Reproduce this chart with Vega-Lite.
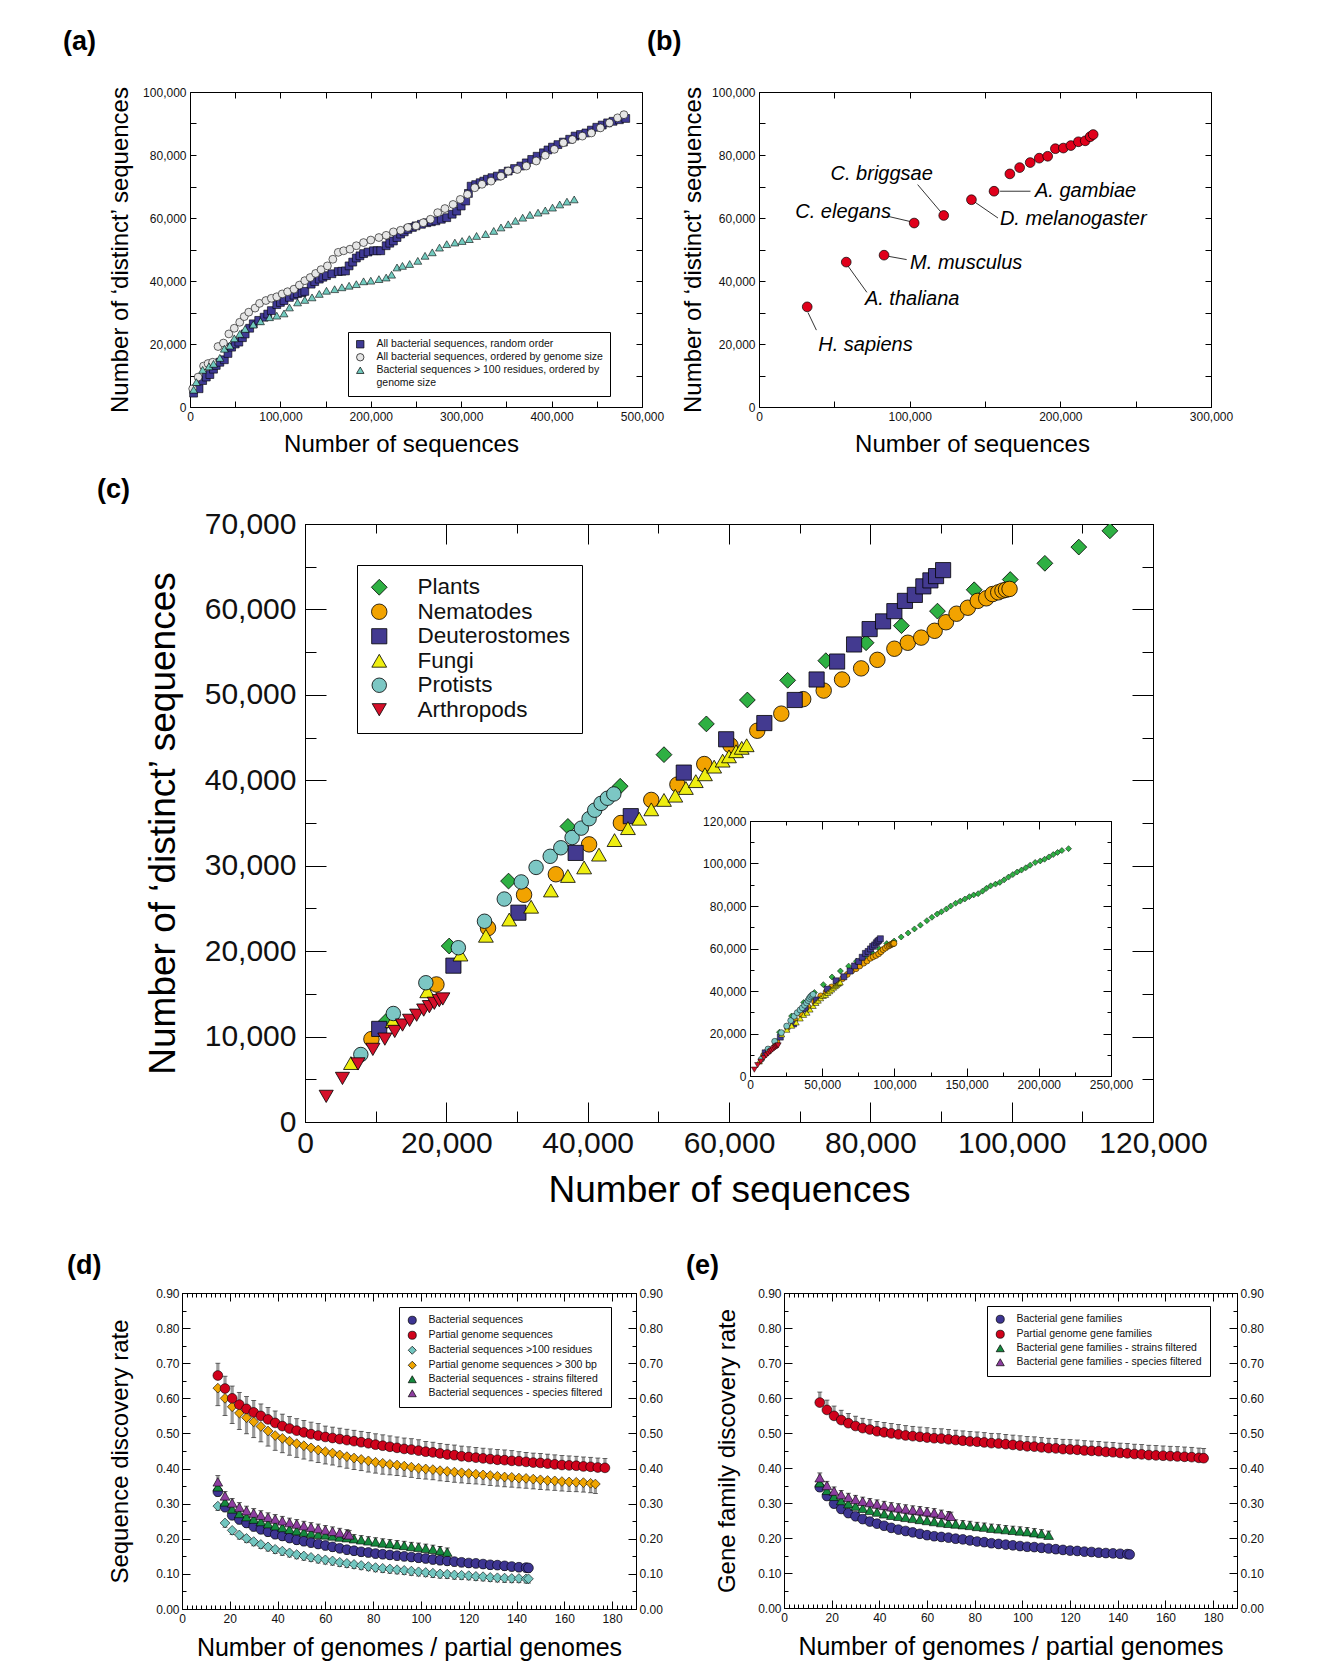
{
"$schema":"https://vega.github.io/schema/vega-lite/v6.json",
"background":"white",
"padding":{"left":0,"top":27,"right":5,"bottom":5},
"config":{
 "font":"Liberation Sans",
 "view":{"stroke":"black","strokeWidth":1},
 "axis":{"domain":false,"grid":false,"tickColor":"black","tickWidth":1,"labelColor":"#111","titleColor":"black","titleFontWeight":"normal","labelFlush":false,"labelOverlap":false,"labelBound":false},
 "legend":{"titleFontWeight":"normal","labelColor":"#111","symbolStrokeColor":"black","symbolStrokeWidth":0.7,"strokeColor":"black","fillColor":"white","labelFont":"Liberation Sans"},
 "title":{"fontWeight":"bold","anchor":"start","frame":"group","color":"black","font":"Liberation Sans"}
},
"resolve":{"scale":{"color":"independent","shape":"independent","size":"independent"},"legend":{"color":"independent","shape":"independent","size":"independent"}},
"datasets":{
 "a":[
{"s":"R","x":4000,"y":4400},{"s":"R","x":10000,"y":5800},{"s":"R","x":14000,"y":8400},{"s":"R","x":18000,"y":9500},{"s":"R","x":22000,"y":10300},{"s":"R","x":26000,"y":12000},{"s":"R","x":29000,"y":13200},{"s":"R","x":33000,"y":14200},{"s":"R","x":38000,"y":15000},{"s":"R","x":42000,"y":17000},{"s":"R","x":46000,"y":19000},{"s":"R","x":50000,"y":20000},{"s":"R","x":54000,"y":20600},{"s":"R","x":58000,"y":22000},{"s":"R","x":61000,"y":23200},{"s":"R","x":66000,"y":25000},{"s":"R","x":70000,"y":26400},{"s":"R","x":76000,"y":27500},{"s":"R","x":82000,"y":28500},{"s":"R","x":86000,"y":29500},{"s":"R","x":90000,"y":30600},{"s":"R","x":96000,"y":32500},{"s":"R","x":100000,"y":33200},{"s":"R","x":104000,"y":33800},{"s":"R","x":110000,"y":34800},{"s":"R","x":115000,"y":35500},{"s":"R","x":119000,"y":36000},{"s":"R","x":124000,"y":36300},{"s":"R","x":127000,"y":36700},{"s":"R","x":134000,"y":39000},{"s":"R","x":138000,"y":39800},{"s":"R","x":143000,"y":40600},{"s":"R","x":147000,"y":41200},{"s":"R","x":151000,"y":41700},{"s":"R","x":157000,"y":42300},{"s":"R","x":164000,"y":43000},{"s":"R","x":168000,"y":43100},{"s":"R","x":172000,"y":43200},{"s":"R","x":176000,"y":44800},{"s":"R","x":180000,"y":46000},{"s":"R","x":184000,"y":47300},{"s":"R","x":188000,"y":48000},{"s":"R","x":192000,"y":48700},{"s":"R","x":197000,"y":49200},{"s":"R","x":203000,"y":49600},{"s":"R","x":207000,"y":49600},{"s":"R","x":211000,"y":49600},{"s":"R","x":217000,"y":51200},{"s":"R","x":221000,"y":52000},{"s":"R","x":225000,"y":52700},{"s":"R","x":229000,"y":53800},{"s":"R","x":233000,"y":54900},{"s":"R","x":237000,"y":55600},{"s":"R","x":241000,"y":56400},{"s":"R","x":246000,"y":57000},{"s":"R","x":250000,"y":57500},{"s":"R","x":256000,"y":58000},{"s":"R","x":262000,"y":58500},{"s":"R","x":267000,"y":58800},{"s":"R","x":272000,"y":59100},{"s":"R","x":278000,"y":59600},{"s":"R","x":284000,"y":60100},{"s":"R","x":290000,"y":61200},{"s":"R","x":295000,"y":62200},{"s":"R","x":300000,"y":63800},{"s":"R","x":305000,"y":65400},{"s":"R","x":308000,"y":67800},{"s":"R","x":311000,"y":70100},{"s":"R","x":316000,"y":70600},{"s":"R","x":321000,"y":71200},{"s":"R","x":325000,"y":71700},{"s":"R","x":329000,"y":72300},{"s":"R","x":334000,"y":72800},{"s":"R","x":340000,"y":73300},{"s":"R","x":346000,"y":74100},{"s":"R","x":352000,"y":74900},{"s":"R","x":359000,"y":75700},{"s":"R","x":366000,"y":76500},{"s":"R","x":372000,"y":77500},{"s":"R","x":378000,"y":78600},{"s":"R","x":384000,"y":79600},{"s":"R","x":391000,"y":80700},{"s":"R","x":396000,"y":81600},{"s":"R","x":401000,"y":82500},{"s":"R","x":407000,"y":83300},{"s":"R","x":413000,"y":84100},{"s":"R","x":420000,"y":85000},{"s":"R","x":426000,"y":86000},{"s":"R","x":432000,"y":86500},{"s":"R","x":438000,"y":87000},{"s":"R","x":444000,"y":87900},{"s":"R","x":450000,"y":88800},{"s":"R","x":456000,"y":89500},{"s":"R","x":462000,"y":90200},{"s":"R","x":468000,"y":90700},{"s":"R","x":475000,"y":91200},{"s":"R","x":482000,"y":91600},
{"s":"G","x":3000,"y":5800},{"s":"G","x":9000,"y":9500},{"s":"G","x":15000,"y":13000},{"s":"G","x":20000,"y":13800},{"s":"G","x":25000,"y":14200},{"s":"G","x":31000,"y":19200},{"s":"G","x":37000,"y":20300},{"s":"G","x":43000,"y":23200},{"s":"G","x":49000,"y":25000},{"s":"G","x":55000,"y":26900},{"s":"G","x":60000,"y":28700},{"s":"G","x":65000,"y":30100},{"s":"G","x":72000,"y":31400},{"s":"G","x":77000,"y":32900},{"s":"G","x":84000,"y":33800},{"s":"G","x":90000,"y":34500},{"s":"G","x":96000,"y":35000},{"s":"G","x":102000,"y":35900},{"s":"G","x":108000,"y":36600},{"s":"G","x":115000,"y":37400},{"s":"G","x":121000,"y":38700},{"s":"G","x":127000,"y":40100},{"s":"G","x":133000,"y":41100},{"s":"G","x":139000,"y":42400},{"s":"G","x":145000,"y":43600},{"s":"G","x":152000,"y":44800},{"s":"G","x":158000,"y":46900},{"s":"G","x":164000,"y":49100},{"s":"G","x":170000,"y":49600},{"s":"G","x":177000,"y":50100},{"s":"G","x":184000,"y":51200},{"s":"G","x":192000,"y":52200},{"s":"G","x":200000,"y":53000},{"s":"G","x":209000,"y":53800},{"s":"G","x":217000,"y":54500},{"s":"G","x":225000,"y":55600},{"s":"G","x":233000,"y":56100},{"s":"G","x":241000,"y":57000},{"s":"G","x":250000,"y":57500},{"s":"G","x":258000,"y":58500},{"s":"G","x":266000,"y":59600},{"s":"G","x":274000,"y":61700},{"s":"G","x":282000,"y":63000},{"s":"G","x":291000,"y":64300},{"s":"G","x":299000,"y":65900},{"s":"G","x":307000,"y":67500},{"s":"G","x":315000,"y":69600},{"s":"G","x":323000,"y":70700},{"s":"G","x":333000,"y":71700},{"s":"G","x":344000,"y":73300},{"s":"G","x":352000,"y":74900},{"s":"G","x":362000,"y":75400},{"s":"G","x":372000,"y":76500},{"s":"G","x":383000,"y":78100},{"s":"G","x":393000,"y":79900},{"s":"G","x":403000,"y":81800},{"s":"G","x":413000,"y":83900},{"s":"G","x":423000,"y":84900},{"s":"G","x":434000,"y":86000},{"s":"G","x":444000,"y":87000},{"s":"G","x":454000,"y":88600},{"s":"G","x":464000,"y":90200},{"s":"G","x":473000,"y":91800},{"s":"G","x":480000,"y":92800},
{"s":"T","x":4000,"y":5500},{"s":"T","x":7000,"y":7900},{"s":"T","x":14000,"y":11800},{"s":"T","x":21000,"y":12900},{"s":"T","x":26000,"y":13700},{"s":"T","x":33000,"y":15600},{"s":"T","x":38000,"y":18500},{"s":"T","x":44000,"y":19500},{"s":"T","x":49000,"y":21800},{"s":"T","x":55000,"y":23200},{"s":"T","x":61000,"y":24800},{"s":"T","x":70000,"y":26200},{"s":"T","x":78000,"y":27200},{"s":"T","x":88000,"y":28500},{"s":"T","x":96000,"y":29000},{"s":"T","x":104000,"y":29700},{"s":"T","x":110000,"y":31600},{"s":"T","x":119000,"y":33200},{"s":"T","x":127000,"y":34000},{"s":"T","x":135000,"y":34800},{"s":"T","x":143000,"y":35900},{"s":"T","x":151000,"y":36900},{"s":"T","x":160000,"y":37400},{"s":"T","x":168000,"y":38000},{"s":"T","x":176000,"y":38500},{"s":"T","x":184000,"y":39000},{"s":"T","x":192000,"y":39900},{"s":"T","x":200000,"y":40100},{"s":"T","x":209000,"y":40600},{"s":"T","x":217000,"y":41100},{"s":"T","x":223000,"y":42000},{"s":"T","x":229000,"y":44300},{"s":"T","x":235000,"y":44800},{"s":"T","x":243000,"y":45400},{"s":"T","x":252000,"y":46400},{"s":"T","x":260000,"y":48000},{"s":"T","x":268000,"y":49100},{"s":"T","x":276000,"y":50600},{"s":"T","x":284000,"y":51700},{"s":"T","x":293000,"y":52200},{"s":"T","x":301000,"y":52700},{"s":"T","x":309000,"y":53300},{"s":"T","x":317000,"y":54300},{"s":"T","x":327000,"y":54900},{"s":"T","x":336000,"y":55900},{"s":"T","x":344000,"y":57000},{"s":"T","x":352000,"y":58000},{"s":"T","x":360000,"y":59100},{"s":"T","x":368000,"y":60100},{"s":"T","x":376000,"y":61000},{"s":"T","x":385000,"y":61700},{"s":"T","x":393000,"y":62400},{"s":"T","x":401000,"y":63300},{"s":"T","x":409000,"y":64300},{"s":"T","x":417000,"y":65200},{"s":"T","x":425000,"y":65900}
 ],
 "b":[
{"x":32000,"y":31800},{"x":57900,"y":46000},{"x":83000,"y":48200},{"x":103000,"y":58400},{"x":122600,"y":60800},{"x":141000,"y":65800},{"x":156000,"y":68500},{"x":166500,"y":74000},{"x":173000,"y":76000},{"x":180000,"y":77600},{"x":186000,"y":79000},{"x":191600,"y":79600},{"x":196700,"y":82000},{"x":202000,"y":82200},{"x":207000,"y":83000},{"x":212000,"y":84200},{"x":216500,"y":84500},{"x":219800,"y":85800},{"x":221800,"y":86500}
 ],
 "bl":[
{"n":"H. sapiens","lx":39300,"ly":19700,"x1":32500,"y1":30000,"x2":38100,"y2":24400},
{"n":"A. thaliana","lx":70300,"ly":34200,"x1":58400,"y1":45200,"x2":71600,"y2":36400},
{"n":"M. musculus","lx":100300,"ly":45700,"x1":86300,"y1":47800,"x2":98000,"y2":46800},
{"n":"C. elegans","lx":24100,"ly":61900,"x1":85000,"y1":60600,"x2":102000,"y2":58700},
{"n":"C. briggsae","lx":47500,"ly":73900,"x1":105300,"y1":70600,"x2":122300,"y2":61000},
{"n":"D. melanogaster","lx":159900,"ly":59700,"x1":143400,"y1":65000,"x2":158600,"y2":60000},
{"n":"A. gambiae","lx":183200,"ly":68500,"x1":160000,"y1":68500,"x2":180200,"y2":68500}
 ],
 "c":[
{"g":"Plants","x":11500,"y":11800},{"g":"Plants","x":20400,"y":20600},{"g":"Plants","x":28800,"y":28200},{"g":"Plants","x":37200,"y":34600},{"g":"Plants","x":44600,"y":39300},{"g":"Plants","x":50800,"y":43000},{"g":"Plants","x":56800,"y":46600},{"g":"Plants","x":62600,"y":49400},{"g":"Plants","x":68300,"y":51700},{"g":"Plants","x":73700,"y":54000},{"g":"Plants","x":79400,"y":56100},{"g":"Plants","x":84400,"y":58100},{"g":"Plants","x":89500,"y":59800},{"g":"Plants","x":94700,"y":62300},{"g":"Plants","x":99800,"y":63500},{"g":"Plants","x":104700,"y":65400},{"g":"Plants","x":109500,"y":67300},{"g":"Plants","x":113900,"y":69200},{"g":"Plants","x":118000,"y":71000},{"g":"Plants","x":122500,"y":73100},{"g":"Plants","x":126000,"y":74700},{"g":"Plants","x":129600,"y":76200},{"g":"Plants","x":132600,"y":77300},{"g":"Plants","x":136000,"y":78600},{"g":"Plants","x":139000,"y":80000},{"g":"Plants","x":142400,"y":81300},{"g":"Plants","x":145600,"y":82300},{"g":"Plants","x":148800,"y":83300},{"g":"Plants","x":151900,"y":84400},{"g":"Plants","x":154900,"y":85200},{"g":"Plants","x":158000,"y":85800},{"g":"Plants","x":161000,"y":87000},{"g":"Plants","x":163700,"y":88300},{"g":"Plants","x":166700,"y":89500},{"g":"Plants","x":170000,"y":90300},{"g":"Plants","x":173000,"y":91100},{"g":"Plants","x":176000,"y":92300},{"g":"Plants","x":179000,"y":93600},{"g":"Plants","x":182000,"y":94800},{"g":"Plants","x":185000,"y":96000},{"g":"Plants","x":188000,"y":96900},{"g":"Plants","x":191000,"y":98000},{"g":"Plants","x":194000,"y":99200},{"g":"Plants","x":197500,"y":100500},{"g":"Plants","x":201000,"y":101200},{"g":"Plants","x":204000,"y":102000},{"g":"Plants","x":207000,"y":103100},{"g":"Plants","x":210000,"y":104200},{"g":"Plants","x":213000,"y":105200},{"g":"Plants","x":216000,"y":106100},{"g":"Plants","x":220600,"y":107000},
{"g":"Nematodes","x":9400,"y":9700},{"g":"Nematodes","x":18600,"y":16100},{"g":"Nematodes","x":25900,"y":22700},{"g":"Nematodes","x":31000,"y":26600},{"g":"Nematodes","x":35500,"y":29000},{"g":"Nematodes","x":40200,"y":32500},{"g":"Nematodes","x":44700,"y":35000},{"g":"Nematodes","x":49000,"y":37700},{"g":"Nematodes","x":52700,"y":39500},{"g":"Nematodes","x":56500,"y":41900},{"g":"Nematodes","x":60200,"y":44100},{"g":"Nematodes","x":64000,"y":45800},{"g":"Nematodes","x":67400,"y":47800},{"g":"Nematodes","x":70500,"y":49500},{"g":"Nematodes","x":73400,"y":50500},{"g":"Nematodes","x":76000,"y":51800},{"g":"Nematodes","x":78700,"y":53100},{"g":"Nematodes","x":81000,"y":54100},{"g":"Nematodes","x":83400,"y":55400},{"g":"Nematodes","x":85300,"y":56100},{"g":"Nematodes","x":87200,"y":56700},{"g":"Nematodes","x":89100,"y":57500},{"g":"Nematodes","x":90700,"y":58500},{"g":"Nematodes","x":92200,"y":59500},{"g":"Nematodes","x":93800,"y":60200},{"g":"Nematodes","x":95200,"y":61000},{"g":"Nematodes","x":96400,"y":61300},{"g":"Nematodes","x":97300,"y":61800},{"g":"Nematodes","x":98100,"y":62000},{"g":"Nematodes","x":98700,"y":62200},{"g":"Nematodes","x":99200,"y":62300},{"g":"Nematodes","x":99700,"y":62400},
{"g":"Deuterostomes","x":10500,"y":10900},{"g":"Deuterostomes","x":21000,"y":18300},{"g":"Deuterostomes","x":30200,"y":24500},{"g":"Deuterostomes","x":38300,"y":31500},{"g":"Deuterostomes","x":46100,"y":35800},{"g":"Deuterostomes","x":53600,"y":40900},{"g":"Deuterostomes","x":59600,"y":44800},{"g":"Deuterostomes","x":65000,"y":46700},{"g":"Deuterostomes","x":69300,"y":49400},{"g":"Deuterostomes","x":72400,"y":51800},{"g":"Deuterostomes","x":75300,"y":53900},{"g":"Deuterostomes","x":77700,"y":55900},{"g":"Deuterostomes","x":79900,"y":57700},{"g":"Deuterostomes","x":81800,"y":58600},{"g":"Deuterostomes","x":83400,"y":59800},{"g":"Deuterostomes","x":84900,"y":61000},{"g":"Deuterostomes","x":86300,"y":61700},{"g":"Deuterostomes","x":87500,"y":62700},{"g":"Deuterostomes","x":88500,"y":63400},{"g":"Deuterostomes","x":89300,"y":63900},{"g":"Deuterostomes","x":90300,"y":64600},
{"g":"Fungi","x":6500,"y":6900},{"g":"Fungi","x":12400,"y":11800},{"g":"Fungi","x":17300,"y":15300},{"g":"Fungi","x":22000,"y":19600},{"g":"Fungi","x":25600,"y":21800},{"g":"Fungi","x":28900,"y":23700},{"g":"Fungi","x":32000,"y":25200},{"g":"Fungi","x":34800,"y":27100},{"g":"Fungi","x":37200,"y":28800},{"g":"Fungi","x":39500,"y":29800},{"g":"Fungi","x":41600,"y":31300},{"g":"Fungi","x":43800,"y":33000},{"g":"Fungi","x":45700,"y":34400},{"g":"Fungi","x":47300,"y":35500},{"g":"Fungi","x":49000,"y":36600},{"g":"Fungi","x":50800,"y":37700},{"g":"Fungi","x":52400,"y":38200},{"g":"Fungi","x":53900,"y":39100},{"g":"Fungi","x":55300,"y":39900},{"g":"Fungi","x":56600,"y":40700},{"g":"Fungi","x":57900,"y":41600},{"g":"Fungi","x":59100,"y":42300},{"g":"Fungi","x":60000,"y":42800},{"g":"Fungi","x":61000,"y":43400},{"g":"Fungi","x":61800,"y":43800},{"g":"Fungi","x":62500,"y":44100},
{"g":"Protists","x":7900,"y":7900},{"g":"Protists","x":12500,"y":12700},{"g":"Protists","x":17100,"y":16300},{"g":"Protists","x":21700,"y":20400},{"g":"Protists","x":25400,"y":23500},{"g":"Protists","x":28200,"y":26100},{"g":"Protists","x":30600,"y":28100},{"g":"Protists","x":32700,"y":29800},{"g":"Protists","x":34700,"y":31100},{"g":"Protists","x":36200,"y":32100},{"g":"Protists","x":37800,"y":33300},{"g":"Protists","x":39100,"y":34400},{"g":"Protists","x":40200,"y":35500},{"g":"Protists","x":41000,"y":36500},{"g":"Protists","x":41900,"y":37300},{"g":"Protists","x":42800,"y":37900},{"g":"Protists","x":43700,"y":38400},
{"g":"Arthropods","x":3000,"y":3000},{"g":"Arthropods","x":5300,"y":5100},{"g":"Arthropods","x":7500,"y":6800},{"g":"Arthropods","x":9600,"y":8500},{"g":"Arthropods","x":11300,"y":9700},{"g":"Arthropods","x":12700,"y":10600},{"g":"Arthropods","x":13800,"y":11350},{"g":"Arthropods","x":14800,"y":11900},{"g":"Arthropods","x":15800,"y":12500},{"g":"Arthropods","x":16800,"y":13100},{"g":"Arthropods","x":17600,"y":13500},{"g":"Arthropods","x":18300,"y":13900},{"g":"Arthropods","x":19000,"y":14200},{"g":"Arthropods","x":19500,"y":14400}
 ],
 "d":[
{"s":"b1","x":15,"y":0.293,"b":0.281},{"s":"b1","x":18,"y":0.245,"b":0.233},{"s":"b1","x":21,"y":0.224,"b":0.212},{"s":"b1","x":24,"y":0.211,"b":0.199},{"s":"b1","x":27,"y":0.201,"b":0.189},{"s":"b1","x":30,"y":0.192,"b":0.18},{"s":"b1","x":33,"y":0.184,"b":0.172},{"s":"b1","x":36,"y":0.177,"b":0.165},{"s":"b1","x":39,"y":0.17,"b":0.158},{"s":"b1","x":42,"y":0.165,"b":0.153},{"s":"b1","x":45,"y":0.16,"b":0.148},{"s":"b1","x":48,"y":0.155,"b":0.143},{"s":"b1","x":51,"y":0.151,"b":0.139},{"s":"b1","x":54,"y":0.147,"b":0.135},{"s":"b1","x":57,"y":0.143,"b":0.131},{"s":"b1","x":60,"y":0.14,"b":0.128},{"s":"b1","x":63,"y":0.137,"b":0.125},{"s":"b1","x":66,"y":0.133,"b":0.121},{"s":"b1","x":69,"y":0.13,"b":0.118},{"s":"b1","x":72,"y":0.127,"b":0.115},{"s":"b1","x":75,"y":0.124,"b":0.112},{"s":"b1","x":78,"y":0.121,"b":0.109},{"s":"b1","x":81,"y":0.118,"b":0.106},{"s":"b1","x":84,"y":0.116,"b":0.104},{"s":"b1","x":87,"y":0.114,"b":0.102},{"s":"b1","x":90,"y":0.112,"b":0.1},{"s":"b1","x":93,"y":0.11,"b":0.098},{"s":"b1","x":96,"y":0.108,"b":0.096},{"s":"b1","x":99,"y":0.106,"b":0.094},{"s":"b1","x":102,"y":0.104,"b":0.092},{"s":"b1","x":105,"y":0.102,"b":0.09},{"s":"b1","x":108,"y":0.1,"b":0.088},{"s":"b1","x":111,"y":0.099,"b":0.087},{"s":"b1","x":114,"y":0.097,"b":0.085},{"s":"b1","x":117,"y":0.096,"b":0.084},{"s":"b1","x":120,"y":0.095,"b":0.083},{"s":"b1","x":123,"y":0.093,"b":0.081},{"s":"b1","x":126,"y":0.092,"b":0.08},{"s":"b1","x":129,"y":0.09,"b":0.078},{"s":"b1","x":132,"y":0.089,"b":0.077},{"s":"b1","x":135,"y":0.088,"b":0.076},{"s":"b1","x":138,"y":0.087,"b":0.075},{"s":"b1","x":141,"y":0.087,"b":0.075},{"s":"b1","x":144,"y":0.086,"b":0.074},{"s":"b1","x":145,"y":0.086,"b":0.074},
{"s":"bs","x":15,"y":0.334,"b":0.321},{"s":"bs","x":18,"y":0.29,"b":0.277},{"s":"bs","x":21,"y":0.267,"b":0.254},{"s":"bs","x":24,"y":0.255,"b":0.242},{"s":"bs","x":27,"y":0.245,"b":0.232},{"s":"bs","x":30,"y":0.235,"b":0.222},{"s":"bs","x":33,"y":0.227,"b":0.214},{"s":"bs","x":36,"y":0.22,"b":0.207},{"s":"bs","x":39,"y":0.213,"b":0.2},{"s":"bs","x":42,"y":0.208,"b":0.195},{"s":"bs","x":45,"y":0.202,"b":0.189},{"s":"bs","x":48,"y":0.197,"b":0.184},{"s":"bs","x":51,"y":0.193,"b":0.18},{"s":"bs","x":54,"y":0.189,"b":0.176},{"s":"bs","x":57,"y":0.185,"b":0.172},{"s":"bs","x":60,"y":0.181,"b":0.168},{"s":"bs","x":63,"y":0.177,"b":0.164},{"s":"bs","x":66,"y":0.173,"b":0.16},{"s":"bs","x":69,"y":0.169,"b":0.156},{"s":"bs","x":72,"y":0.166,"b":0.153},{"s":"bs","x":75,"y":0.163,"b":0.15},{"s":"bs","x":78,"y":0.161,"b":0.148},{"s":"bs","x":81,"y":0.158,"b":0.145},{"s":"bs","x":84,"y":0.156,"b":0.143},{"s":"bs","x":87,"y":0.154,"b":0.141},{"s":"bs","x":90,"y":0.152,"b":0.139},{"s":"bs","x":93,"y":0.15,"b":0.137},{"s":"bs","x":96,"y":0.148,"b":0.135},{"s":"bs","x":99,"y":0.146,"b":0.133},{"s":"bs","x":102,"y":0.144,"b":0.131},{"s":"bs","x":105,"y":0.141,"b":0.128},{"s":"bs","x":108,"y":0.139,"b":0.126},{"s":"bs","x":111,"y":0.137,"b":0.124},{"s":"bs","x":114,"y":0.135,"b":0.122},{"s":"bs","x":117,"y":0.133,"b":0.12},{"s":"bs","x":120,"y":0.131,"b":0.118},{"s":"bs","x":123,"y":0.13,"b":0.117},{"s":"bs","x":126,"y":0.128,"b":0.115},{"s":"bs","x":129,"y":0.126,"b":0.113},{"s":"bs","x":132,"y":0.125,"b":0.112},{"s":"bs","x":135,"y":0.123,"b":0.11},{"s":"bs","x":138,"y":0.121,"b":0.108},{"s":"bs","x":141,"y":0.119,"b":0.106},{"s":"bs","x":144,"y":0.118,"b":0.105},{"s":"bs","x":145,"y":0.117,"b":0.104},
{"s":"st","x":15,"y":0.348,"b":0.362},{"s":"st","x":18,"y":0.305,"b":0.317},{"s":"st","x":21,"y":0.285,"b":0.297},{"s":"st","x":24,"y":0.272,"b":0.284},{"s":"st","x":27,"y":0.263,"b":0.275},{"s":"st","x":30,"y":0.256,"b":0.268},{"s":"st","x":33,"y":0.249,"b":0.261},{"s":"st","x":36,"y":0.243,"b":0.255},{"s":"st","x":39,"y":0.237,"b":0.249},{"s":"st","x":42,"y":0.232,"b":0.244},{"s":"st","x":45,"y":0.227,"b":0.239},{"s":"st","x":48,"y":0.223,"b":0.235},{"s":"st","x":51,"y":0.219,"b":0.231},{"s":"st","x":54,"y":0.216,"b":0.228},{"s":"st","x":57,"y":0.213,"b":0.225},{"s":"st","x":60,"y":0.211,"b":0.223},{"s":"st","x":63,"y":0.208,"b":0.22},{"s":"st","x":66,"y":0.205,"b":0.217},{"s":"st","x":69,"y":0.203,"b":0.215},{"s":"st","x":72,"y":0.2,"b":0.212},{"s":"st","x":75,"y":0.197,"b":0.209},{"s":"st","x":78,"y":0.194,"b":0.206},{"s":"st","x":81,"y":0.191,"b":0.203},{"s":"st","x":84,"y":0.188,"b":0.2},{"s":"st","x":87,"y":0.186,"b":0.198},{"s":"st","x":90,"y":0.183,"b":0.195},{"s":"st","x":93,"y":0.181,"b":0.193},{"s":"st","x":96,"y":0.178,"b":0.19},{"s":"st","x":99,"y":0.176,"b":0.188},{"s":"st","x":102,"y":0.173,"b":0.185},{"s":"st","x":105,"y":0.17,"b":0.182},{"s":"st","x":108,"y":0.166,"b":0.178},{"s":"st","x":111,"y":0.162,"b":0.174},
{"s":"sp","x":15,"y":0.362,"b":0.38},{"s":"sp","x":18,"y":0.322,"b":0.335},{"s":"sp","x":21,"y":0.302,"b":0.315},{"s":"sp","x":24,"y":0.29,"b":0.303},{"s":"sp","x":27,"y":0.28,"b":0.293},{"s":"sp","x":30,"y":0.273,"b":0.286},{"s":"sp","x":33,"y":0.267,"b":0.28},{"s":"sp","x":36,"y":0.261,"b":0.274},{"s":"sp","x":39,"y":0.256,"b":0.269},{"s":"sp","x":42,"y":0.251,"b":0.264},{"s":"sp","x":45,"y":0.246,"b":0.259},{"s":"sp","x":48,"y":0.242,"b":0.255},{"s":"sp","x":51,"y":0.237,"b":0.25},{"s":"sp","x":54,"y":0.233,"b":0.246},{"s":"sp","x":57,"y":0.229,"b":0.242},{"s":"sp","x":60,"y":0.225,"b":0.238},{"s":"sp","x":63,"y":0.221,"b":0.234},{"s":"sp","x":66,"y":0.217,"b":0.23},{"s":"sp","x":69,"y":0.213,"b":0.226},{"s":"sp","x":70,"y":0.211,"b":0.224},
{"s":"p3","x":15,"y":0.629,"b":0.579},{"s":"p3","x":18,"y":0.6,"b":0.551},{"s":"p3","x":21,"y":0.576,"b":0.528},{"s":"p3","x":24,"y":0.558,"b":0.511},{"s":"p3","x":27,"y":0.545,"b":0.499},{"s":"p3","x":30,"y":0.533,"b":0.488},{"s":"p3","x":33,"y":0.52,"b":0.476},{"s":"p3","x":36,"y":0.507,"b":0.464},{"s":"p3","x":39,"y":0.494,"b":0.452},{"s":"p3","x":42,"y":0.486,"b":0.445},{"s":"p3","x":45,"y":0.478,"b":0.438},{"s":"p3","x":48,"y":0.471,"b":0.432},{"s":"p3","x":51,"y":0.465,"b":0.427},{"s":"p3","x":54,"y":0.459,"b":0.422},{"s":"p3","x":57,"y":0.453,"b":0.417},{"s":"p3","x":60,"y":0.448,"b":0.413},{"s":"p3","x":63,"y":0.444,"b":0.41},{"s":"p3","x":66,"y":0.439,"b":0.405},{"s":"p3","x":69,"y":0.434,"b":0.401},{"s":"p3","x":72,"y":0.43,"b":0.397},{"s":"p3","x":75,"y":0.426,"b":0.394},{"s":"p3","x":78,"y":0.422,"b":0.39},{"s":"p3","x":81,"y":0.418,"b":0.387},{"s":"p3","x":84,"y":0.415,"b":0.384},{"s":"p3","x":87,"y":0.412,"b":0.382},{"s":"p3","x":90,"y":0.41,"b":0.38},{"s":"p3","x":93,"y":0.407,"b":0.378},{"s":"p3","x":96,"y":0.404,"b":0.375},{"s":"p3","x":99,"y":0.401,"b":0.372},{"s":"p3","x":102,"y":0.399,"b":0.37},{"s":"p3","x":105,"y":0.397,"b":0.368},{"s":"p3","x":108,"y":0.394,"b":0.365},{"s":"p3","x":111,"y":0.392,"b":0.363},{"s":"p3","x":114,"y":0.39,"b":0.361},{"s":"p3","x":117,"y":0.388,"b":0.359},{"s":"p3","x":120,"y":0.386,"b":0.357},{"s":"p3","x":123,"y":0.384,"b":0.356},{"s":"p3","x":126,"y":0.382,"b":0.354},{"s":"p3","x":129,"y":0.38,"b":0.352},{"s":"p3","x":132,"y":0.378,"b":0.35},{"s":"p3","x":135,"y":0.376,"b":0.348},{"s":"p3","x":138,"y":0.375,"b":0.347},{"s":"p3","x":141,"y":0.373,"b":0.345},{"s":"p3","x":144,"y":0.372,"b":0.344},{"s":"p3","x":147,"y":0.37,"b":0.342},{"s":"p3","x":150,"y":0.368,"b":0.34},{"s":"p3","x":153,"y":0.366,"b":0.339},{"s":"p3","x":156,"y":0.365,"b":0.338},{"s":"p3","x":159,"y":0.363,"b":0.336},{"s":"p3","x":162,"y":0.362,"b":0.335},{"s":"p3","x":165,"y":0.361,"b":0.334},{"s":"p3","x":168,"y":0.36,"b":0.333},{"s":"p3","x":171,"y":0.358,"b":0.331},{"s":"p3","x":173,"y":0.356,"b":0.329},
{"s":"pg","x":15,"y":0.665,"b":0.7},{"s":"pg","x":18,"y":0.628,"b":0.663},{"s":"pg","x":21,"y":0.6,"b":0.635},{"s":"pg","x":24,"y":0.582,"b":0.617},{"s":"pg","x":27,"y":0.57,"b":0.605},{"s":"pg","x":30,"y":0.56,"b":0.594},{"s":"pg","x":33,"y":0.55,"b":0.584},{"s":"pg","x":36,"y":0.54,"b":0.574},{"s":"pg","x":39,"y":0.53,"b":0.564},{"s":"pg","x":42,"y":0.521,"b":0.555},{"s":"pg","x":45,"y":0.514,"b":0.548},{"s":"pg","x":48,"y":0.508,"b":0.542},{"s":"pg","x":51,"y":0.503,"b":0.537},{"s":"pg","x":54,"y":0.498,"b":0.532},{"s":"pg","x":57,"y":0.494,"b":0.528},{"s":"pg","x":60,"y":0.49,"b":0.521},{"s":"pg","x":63,"y":0.487,"b":0.518},{"s":"pg","x":66,"y":0.484,"b":0.515},{"s":"pg","x":69,"y":0.481,"b":0.512},{"s":"pg","x":72,"y":0.478,"b":0.509},{"s":"pg","x":75,"y":0.475,"b":0.506},{"s":"pg","x":78,"y":0.472,"b":0.503},{"s":"pg","x":81,"y":0.468,"b":0.499},{"s":"pg","x":84,"y":0.465,"b":0.496},{"s":"pg","x":87,"y":0.462,"b":0.493},{"s":"pg","x":90,"y":0.459,"b":0.49},{"s":"pg","x":93,"y":0.456,"b":0.487},{"s":"pg","x":96,"y":0.454,"b":0.485},{"s":"pg","x":99,"y":0.451,"b":0.482},{"s":"pg","x":102,"y":0.448,"b":0.477},{"s":"pg","x":105,"y":0.446,"b":0.475},{"s":"pg","x":108,"y":0.443,"b":0.472},{"s":"pg","x":111,"y":0.44,"b":0.469},{"s":"pg","x":114,"y":0.438,"b":0.467},{"s":"pg","x":117,"y":0.435,"b":0.464},{"s":"pg","x":120,"y":0.433,"b":0.462},{"s":"pg","x":123,"y":0.431,"b":0.46},{"s":"pg","x":126,"y":0.429,"b":0.458},{"s":"pg","x":129,"y":0.427,"b":0.456},{"s":"pg","x":132,"y":0.425,"b":0.454},{"s":"pg","x":135,"y":0.424,"b":0.453},{"s":"pg","x":138,"y":0.422,"b":0.451},{"s":"pg","x":141,"y":0.421,"b":0.448},{"s":"pg","x":144,"y":0.419,"b":0.446},{"s":"pg","x":147,"y":0.417,"b":0.444},{"s":"pg","x":150,"y":0.416,"b":0.443},{"s":"pg","x":153,"y":0.414,"b":0.441},{"s":"pg","x":156,"y":0.412,"b":0.439},{"s":"pg","x":159,"y":0.41,"b":0.437},{"s":"pg","x":162,"y":0.409,"b":0.436},{"s":"pg","x":165,"y":0.408,"b":0.435},{"s":"pg","x":168,"y":0.406,"b":0.433},{"s":"pg","x":171,"y":0.405,"b":0.432},{"s":"pg","x":174,"y":0.403,"b":0.43},{"s":"pg","x":177,"y":0.402,"b":0.429}
 ],
 "e":[
{"s":"bf","x":15,"y":0.345,"b":0.333},{"s":"bf","x":18,"y":0.32,"b":0.308},{"s":"bf","x":21,"y":0.298,"b":0.286},{"s":"bf","x":24,"y":0.283,"b":0.271},{"s":"bf","x":27,"y":0.271,"b":0.259},{"s":"bf","x":30,"y":0.262,"b":0.25},{"s":"bf","x":33,"y":0.254,"b":0.242},{"s":"bf","x":36,"y":0.247,"b":0.235},{"s":"bf","x":39,"y":0.241,"b":0.229},{"s":"bf","x":42,"y":0.235,"b":0.223},{"s":"bf","x":45,"y":0.229,"b":0.217},{"s":"bf","x":48,"y":0.224,"b":0.212},{"s":"bf","x":51,"y":0.22,"b":0.208},{"s":"bf","x":54,"y":0.216,"b":0.204},{"s":"bf","x":57,"y":0.212,"b":0.2},{"s":"bf","x":60,"y":0.208,"b":0.196},{"s":"bf","x":63,"y":0.205,"b":0.193},{"s":"bf","x":66,"y":0.203,"b":0.191},{"s":"bf","x":69,"y":0.201,"b":0.189},{"s":"bf","x":72,"y":0.198,"b":0.186},{"s":"bf","x":75,"y":0.196,"b":0.184},{"s":"bf","x":78,"y":0.193,"b":0.181},{"s":"bf","x":81,"y":0.19,"b":0.178},{"s":"bf","x":84,"y":0.188,"b":0.176},{"s":"bf","x":87,"y":0.185,"b":0.173},{"s":"bf","x":90,"y":0.183,"b":0.171},{"s":"bf","x":93,"y":0.181,"b":0.169},{"s":"bf","x":96,"y":0.179,"b":0.167},{"s":"bf","x":99,"y":0.177,"b":0.165},{"s":"bf","x":102,"y":0.175,"b":0.163},{"s":"bf","x":105,"y":0.174,"b":0.162},{"s":"bf","x":108,"y":0.172,"b":0.16},{"s":"bf","x":111,"y":0.17,"b":0.158},{"s":"bf","x":114,"y":0.168,"b":0.156},{"s":"bf","x":117,"y":0.166,"b":0.154},{"s":"bf","x":120,"y":0.164,"b":0.152},{"s":"bf","x":123,"y":0.163,"b":0.151},{"s":"bf","x":126,"y":0.161,"b":0.149},{"s":"bf","x":129,"y":0.16,"b":0.148},{"s":"bf","x":132,"y":0.158,"b":0.146},{"s":"bf","x":135,"y":0.157,"b":0.145},{"s":"bf","x":138,"y":0.156,"b":0.144},{"s":"bf","x":141,"y":0.155,"b":0.143},{"s":"bf","x":144,"y":0.154,"b":0.142},{"s":"bf","x":145,"y":0.153,"b":0.141},
{"s":"sf","x":15,"y":0.358,"b":0.37},{"s":"sf","x":18,"y":0.336,"b":0.348},{"s":"sf","x":21,"y":0.319,"b":0.331},{"s":"sf","x":24,"y":0.307,"b":0.319},{"s":"sf","x":27,"y":0.298,"b":0.31},{"s":"sf","x":30,"y":0.291,"b":0.303},{"s":"sf","x":33,"y":0.285,"b":0.297},{"s":"sf","x":36,"y":0.279,"b":0.291},{"s":"sf","x":39,"y":0.274,"b":0.286},{"s":"sf","x":42,"y":0.269,"b":0.281},{"s":"sf","x":45,"y":0.265,"b":0.277},{"s":"sf","x":48,"y":0.262,"b":0.274},{"s":"sf","x":51,"y":0.259,"b":0.271},{"s":"sf","x":54,"y":0.256,"b":0.268},{"s":"sf","x":57,"y":0.253,"b":0.265},{"s":"sf","x":60,"y":0.25,"b":0.262},{"s":"sf","x":63,"y":0.247,"b":0.259},{"s":"sf","x":66,"y":0.244,"b":0.256},{"s":"sf","x":69,"y":0.242,"b":0.254},{"s":"sf","x":72,"y":0.24,"b":0.252},{"s":"sf","x":75,"y":0.238,"b":0.25},{"s":"sf","x":78,"y":0.236,"b":0.248},{"s":"sf","x":81,"y":0.233,"b":0.245},{"s":"sf","x":84,"y":0.231,"b":0.243},{"s":"sf","x":87,"y":0.228,"b":0.24},{"s":"sf","x":90,"y":0.226,"b":0.238},{"s":"sf","x":93,"y":0.224,"b":0.236},{"s":"sf","x":96,"y":0.222,"b":0.234},{"s":"sf","x":99,"y":0.22,"b":0.232},{"s":"sf","x":102,"y":0.218,"b":0.23},{"s":"sf","x":105,"y":0.215,"b":0.227},{"s":"sf","x":108,"y":0.212,"b":0.224},{"s":"sf","x":111,"y":0.208,"b":0.22},
{"s":"xf","x":15,"y":0.372,"b":0.386},{"s":"xf","x":18,"y":0.35,"b":0.362},{"s":"xf","x":21,"y":0.334,"b":0.346},{"s":"xf","x":24,"y":0.324,"b":0.336},{"s":"xf","x":27,"y":0.316,"b":0.328},{"s":"xf","x":30,"y":0.31,"b":0.322},{"s":"xf","x":33,"y":0.305,"b":0.317},{"s":"xf","x":36,"y":0.301,"b":0.313},{"s":"xf","x":39,"y":0.297,"b":0.309},{"s":"xf","x":42,"y":0.293,"b":0.305},{"s":"xf","x":45,"y":0.289,"b":0.301},{"s":"xf","x":48,"y":0.286,"b":0.298},{"s":"xf","x":51,"y":0.283,"b":0.295},{"s":"xf","x":54,"y":0.28,"b":0.292},{"s":"xf","x":57,"y":0.278,"b":0.29},{"s":"xf","x":60,"y":0.275,"b":0.287},{"s":"xf","x":63,"y":0.272,"b":0.284},{"s":"xf","x":66,"y":0.268,"b":0.28},{"s":"xf","x":69,"y":0.264,"b":0.276},{"s":"xf","x":70,"y":0.262,"b":0.274},
{"s":"pf","x":15,"y":0.587,"b":0.617},{"s":"pf","x":18,"y":0.566,"b":0.594},{"s":"pf","x":21,"y":0.549,"b":0.577},{"s":"pf","x":24,"y":0.537,"b":0.565},{"s":"pf","x":27,"y":0.528,"b":0.556},{"s":"pf","x":30,"y":0.52,"b":0.548},{"s":"pf","x":33,"y":0.514,"b":0.542},{"s":"pf","x":36,"y":0.51,"b":0.538},{"s":"pf","x":39,"y":0.505,"b":0.533},{"s":"pf","x":42,"y":0.502,"b":0.53},{"s":"pf","x":45,"y":0.499,"b":0.527},{"s":"pf","x":48,"y":0.496,"b":0.524},{"s":"pf","x":51,"y":0.493,"b":0.521},{"s":"pf","x":54,"y":0.491,"b":0.519},{"s":"pf","x":57,"y":0.489,"b":0.517},{"s":"pf","x":60,"y":0.487,"b":0.515},{"s":"pf","x":63,"y":0.485,"b":0.513},{"s":"pf","x":66,"y":0.484,"b":0.512},{"s":"pf","x":69,"y":0.482,"b":0.51},{"s":"pf","x":72,"y":0.48,"b":0.508},{"s":"pf","x":75,"y":0.478,"b":0.506},{"s":"pf","x":78,"y":0.476,"b":0.504},{"s":"pf","x":81,"y":0.475,"b":0.503},{"s":"pf","x":84,"y":0.473,"b":0.501},{"s":"pf","x":87,"y":0.471,"b":0.499},{"s":"pf","x":90,"y":0.47,"b":0.498},{"s":"pf","x":93,"y":0.468,"b":0.496},{"s":"pf","x":96,"y":0.466,"b":0.494},{"s":"pf","x":99,"y":0.464,"b":0.492},{"s":"pf","x":102,"y":0.462,"b":0.49},{"s":"pf","x":105,"y":0.461,"b":0.489},{"s":"pf","x":108,"y":0.459,"b":0.487},{"s":"pf","x":111,"y":0.457,"b":0.485},{"s":"pf","x":114,"y":0.456,"b":0.484},{"s":"pf","x":117,"y":0.454,"b":0.482},{"s":"pf","x":120,"y":0.453,"b":0.481},{"s":"pf","x":123,"y":0.452,"b":0.48},{"s":"pf","x":126,"y":0.45,"b":0.478},{"s":"pf","x":129,"y":0.449,"b":0.477},{"s":"pf","x":132,"y":0.448,"b":0.476},{"s":"pf","x":135,"y":0.446,"b":0.474},{"s":"pf","x":138,"y":0.445,"b":0.473},{"s":"pf","x":141,"y":0.443,"b":0.471},{"s":"pf","x":144,"y":0.442,"b":0.47},{"s":"pf","x":147,"y":0.44,"b":0.468},{"s":"pf","x":150,"y":0.439,"b":0.467},{"s":"pf","x":153,"y":0.437,"b":0.465},{"s":"pf","x":156,"y":0.436,"b":0.464},{"s":"pf","x":159,"y":0.435,"b":0.463},{"s":"pf","x":162,"y":0.434,"b":0.462},{"s":"pf","x":165,"y":0.433,"b":0.461},{"s":"pf","x":168,"y":0.432,"b":0.46},{"s":"pf","x":171,"y":0.431,"b":0.459},{"s":"pf","x":174,"y":0.429,"b":0.457},{"s":"pf","x":176,"y":0.428,"b":0.456}
 ]
},
"vconcat":[
 {"concat":[
  {"width":81,"height":1,"data":{"values":[]},"mark":"point","encoding":{},"view":{"stroke":null}},
  {"width":452,"height":315,"data":{"name":"a"},
   "title":{"text":"(a)","dx":-127,"fontSize":27,"offset":30},
   "layer":[
    {"mark":{"type":"point","filled":true,"size":62,"stroke":"black","strokeWidth":0.6,"opacity":1},
     "encoding":{
      "x":{"field":"x","type":"quantitative","scale":{"domain":[0,500000],"nice":false},"axis":{"orient":"bottom","values":[0,50000,100000,150000,200000,250000,300000,350000,400000,450000,500000],"format":",d","labelExpr":"datum.value % 100000 == 0 ? datum.label : ''","tickSize":-6,"labelPadding":10,"labelFontSize":12,"title":"Number of sequences","titleFontSize":24,"titlePadding":10,"titleX":211}},
      "y":{"field":"y","type":"quantitative","scale":{"domain":[0,100000],"nice":false},"axis":{"orient":"left","values":[0,10000,20000,30000,40000,50000,60000,70000,80000,90000,100000],"format":",d","labelExpr":"datum.value % 20000 == 0 ? datum.label : ''","tickSize":-6,"labelPadding":10,"labelFontSize":12,"title":"Number of ‘distinct’ sequences","titleFontSize":24,"titlePadding":10}},
      "color":{"field":"s","type":"nominal","scale":{"domain":["R","G","T"],"range":["#3f3a94","#e6e6e6","#72cbbf"]},
        "legend":{"orient":"none","legendX":158,"legendY":240,"title":null,"labelFontSize":10.5,"symbolSize":55,"padding":7,"rowPadding":2,"labelOffset":11,"labelLimit":400,"labelExpr":"datum.label == 'R' ? 'All bacterial sequences, random order' : datum.label == 'G' ? 'All bacterial sequences, ordered by genome size' : ['Bacterial sequences > 100 residues, ordered by', 'genome size']"}},
      "shape":{"field":"s","type":"nominal","scale":{"domain":["R","G","T"],"range":["square","circle","triangle-up"]},
        "legend":{"orient":"none","legendX":158,"legendY":240,"title":null,"labelFontSize":10.5,"symbolSize":55,"padding":7,"rowPadding":2,"labelOffset":11,"labelLimit":400,"labelExpr":"datum.label == 'R' ? 'All bacterial sequences, random order' : datum.label == 'G' ? 'All bacterial sequences, ordered by genome size' : ['Bacterial sequences > 100 residues, ordered by', 'genome size']"}}
     }},
    {"data":{"values":[]},"mark":{"type":"point","opacity":0},
     "encoding":{
      "x":{"field":"x","type":"quantitative","axis":{"orient":"top","values":[0,50000,100000,150000,200000,250000,300000,350000,400000,450000,500000],"labels":false,"tickSize":-6,"title":null}},
      "y":{"field":"y","type":"quantitative","axis":{"orient":"right","values":[0,10000,20000,30000,40000,50000,60000,70000,80000,90000,100000],"labels":false,"tickSize":-6,"title":null}}}}
   ],
   "resolve":{"axis":{"x":"independent","y":"independent"}}
  },
  {"width":452,"height":315,
   "title":{"text":"(b)","dx":-112,"fontSize":27,"offset":30},
   "layer":[
    {"data":{"name":"bl"},"mark":{"type":"rule","color":"black","strokeWidth":0.8},
     "encoding":{
      "x":{"field":"x1","type":"quantitative","scale":{"domain":[0,300000],"nice":false},"axis":{"orient":"bottom","values":[0,50000,100000,150000,200000,250000,300000],"format":",d","labelExpr":"datum.value % 100000 == 0 ? datum.label : ''","tickSize":-6,"labelPadding":10,"labelFontSize":12,"title":"Number of sequences","titleFontSize":24,"titlePadding":10,"titleX":213}},
      "y":{"field":"y1","type":"quantitative","scale":{"domain":[0,100000],"nice":false},"axis":{"orient":"left","values":[0,10000,20000,30000,40000,50000,60000,70000,80000,90000,100000],"format":",d","labelExpr":"datum.value % 20000 == 0 ? datum.label : ''","tickSize":-6,"labelPadding":10,"labelFontSize":12,"title":"Number of ‘distinct’ sequences","titleFontSize":24,"titlePadding":6}},
      "x2":{"field":"x2"},"y2":{"field":"y2"}}},
    {"data":{"name":"bl"},"mark":{"type":"text","align":"left","baseline":"middle","fontSize":20,"fontStyle":"italic","font":"Liberation Sans","color":"black"},
     "encoding":{
      "x":{"field":"lx","type":"quantitative","axis":{"orient":"top","values":[0,50000,100000,150000,200000,250000,300000],"labels":false,"tickSize":-6,"title":null}},
      "y":{"field":"ly","type":"quantitative","axis":{"orient":"right","values":[0,10000,20000,30000,40000,50000,60000,70000,80000,90000,100000],"labels":false,"tickSize":-6,"title":null}},
      "text":{"field":"n"}}},
    {"data":{"name":"b"},"mark":{"type":"point","filled":true,"size":95,"fill":"#e0001b","stroke":"black","strokeWidth":0.7,"opacity":1},
     "encoding":{
      "x":{"field":"x","type":"quantitative","axis":null},
      "y":{"field":"y","type":"quantitative","axis":null}}}
   ],
   "resolve":{"axis":{"x":"independent","y":"independent"}}
  }
 ],"columns":3,"align":"none","spacing":-19,
 "resolve":{"scale":{"color":"independent","shape":"independent","size":"independent"},"legend":{"color":"independent","shape":"independent","size":"independent"}}},
 {"vconcat":[
  {"concat":[
   {"width":602,"height":1,"data":{"values":[]},"mark":"point","encoding":{},"view":{"stroke":null}},
   {"width":848,"height":598,"data":{"name":"c"},
    "title":{"text":"(c)","dx":-208,"fontSize":27,"offset":5},
    "layer":[
     {"mark":{"type":"point","filled":true,"stroke":"black","strokeWidth":0.8,"opacity":1,"clip":true},
      "encoding":{
       "x":{"field":"x","type":"quantitative","scale":{"domain":[0,120000],"nice":false},"axis":{"orient":"bottom","values":[0,10000,20000,30000,40000,50000,60000,70000,80000,90000,100000,110000,120000],"format":",d","labelExpr":"datum.value % 20000 == 0 ? datum.label : ''","tickSize":-11,"labelPadding":17,"labelFontSize":30,"title":"Number of sequences","titleFontSize":37,"titlePadding":14}},
       "y":{"field":"y","type":"quantitative","scale":{"domain":[0,70000],"nice":false},"axis":{"orient":"left","values":[0,5000,10000,15000,20000,25000,30000,35000,40000,45000,50000,55000,60000,65000,70000],"format":",d","labelExpr":"datum.value % 10000 == 0 ? datum.label : ''","tickSize":-11,"labelPadding":20,"labelFontSize":30,"title":"Number of ‘distinct’ sequences","titleFontSize":37,"titlePadding":22}},
       "color":{"field":"g","type":"nominal","scale":{"domain":["Plants","Nematodes","Deuterostomes","Fungi","Protists","Arthropods"],"range":["#2eb043","#f2a300","#433a90","#eeee10","#7cc7c4","#d5102a"]},
         "legend":{"orient":"none","legendX":52,"legendY":41,"title":null,"labelFontSize":22.5,"symbolSize":210,"padding":11,"rowPadding":1.5,"labelOffset":27,"symbolStrokeWidth":0.8}},
       "shape":{"field":"g","type":"nominal","scale":{"domain":["Plants","Nematodes","Deuterostomes","Fungi","Protists","Arthropods"],"range":["diamond","circle","square","triangle-up","circle","triangle-down"]},
         "legend":{"orient":"none","legendX":52,"legendY":41,"title":null,"labelFontSize":22.5,"symbolSize":210,"padding":11,"rowPadding":1.5,"labelOffset":27,"symbolStrokeWidth":0.8}},
       "size":{"field":"g","type":"nominal","scale":{"domain":["Plants","Nematodes","Deuterostomes","Fungi","Protists","Arthropods"],"range":[250,200,210,300,200,300]},"legend":null}
      }},
     {"data":{"values":[]},"mark":{"type":"point","opacity":0},
      "encoding":{
       "x":{"field":"x","type":"quantitative","axis":{"orient":"bottom","values":[0,20000,40000,60000,80000,100000,120000],"labels":false,"tickSize":-20,"title":null}},
       "y":{"field":"y","type":"quantitative","axis":{"orient":"left","values":[0,10000,20000,30000,40000,50000,60000,70000],"labels":false,"tickSize":-21,"title":null}}}},
     {"data":{"values":[]},"mark":{"type":"point","opacity":0},
      "encoding":{
       "x":{"field":"x","type":"quantitative","axis":{"orient":"top","values":[0,10000,20000,30000,40000,50000,60000,70000,80000,90000,100000,110000,120000],"labels":false,"tickSize":-9,"title":null}},
       "y":{"field":"y","type":"quantitative","axis":{"orient":"right","values":[0,5000,10000,15000,20000,25000,30000,35000,40000,45000,50000,55000,60000,65000,70000],"labels":false,"tickSize":-11,"title":null}}}},
     {"data":{"values":[]},"mark":{"type":"point","opacity":0},
      "encoding":{
       "x":{"field":"x","type":"quantitative","axis":{"orient":"top","values":[0,20000,40000,60000,80000,100000,120000],"labels":false,"tickSize":-20,"title":null}},
       "y":{"field":"y","type":"quantitative","axis":{"orient":"right","values":[0,10000,20000,30000,40000,50000,60000,70000],"labels":false,"tickSize":-21,"title":null}}}}
    ],
    "resolve":{"axis":{"x":"independent","y":"independent"}}
   },
   {"vconcat":[
    {"width":1,"height":290,"data":{"values":[]},"mark":"point","encoding":{},"view":{"stroke":null}},
    {"width":361,"height":255,"data":{"name":"c"},
     "layer":[
      {"mark":{"type":"point","filled":true,"size":36,"stroke":"black","strokeWidth":0.5,"opacity":1},
       "encoding":{
        "x":{"field":"x","type":"quantitative","scale":{"domain":[0,250000],"nice":false},"axis":{"orient":"bottom","values":[0,25000,50000,75000,100000,125000,150000,175000,200000,225000,250000],"format":",d","labelExpr":"datum.value % 50000 == 0 ? datum.label : ''","tickSize":-4,"labelPadding":7,"labelFontSize":12,"title":null}},
        "y":{"field":"y","type":"quantitative","scale":{"domain":[0,120000],"nice":false},"axis":{"orient":"left","values":[0,10000,20000,30000,40000,50000,60000,70000,80000,90000,100000,110000,120000],"format":",d","labelExpr":"datum.value % 20000 == 0 ? datum.label : ''","tickSize":-4,"labelPadding":8,"labelFontSize":12,"title":null}},
        "color":{"field":"g","type":"nominal","scale":{"domain":["Plants","Nematodes","Deuterostomes","Fungi","Protists","Arthropods"],"range":["#2eb043","#f2a300","#433a90","#eeee10","#7cc7c4","#d5102a"]},"legend":null},
        "shape":{"field":"g","type":"nominal","scale":{"domain":["Plants","Nematodes","Deuterostomes","Fungi","Protists","Arthropods"],"range":["diamond","circle","square","triangle-up","circle","triangle-down"]},"legend":null}
       }},
      {"data":{"values":[]},"mark":{"type":"point","opacity":0},
       "encoding":{
        "x":{"field":"x","type":"quantitative","axis":{"orient":"bottom","values":[0,50000,100000,150000,200000,250000],"labels":false,"tickSize":-8,"title":null}},
        "y":{"field":"y","type":"quantitative","axis":{"orient":"left","values":[0,20000,40000,60000,80000,100000,120000],"labels":false,"tickSize":-8,"title":null}}}},
      {"data":{"values":[]},"mark":{"type":"point","opacity":0},
       "encoding":{
        "x":{"field":"x","type":"quantitative","axis":{"orient":"top","values":[0,25000,50000,75000,100000,125000,150000,175000,200000,225000,250000],"labels":false,"tickSize":-4,"title":null}},
        "y":{"field":"y","type":"quantitative","axis":{"orient":"right","values":[0,10000,20000,30000,40000,50000,60000,70000,80000,90000,100000,110000,120000],"labels":false,"tickSize":-4,"title":null}}}},
      {"data":{"values":[]},"mark":{"type":"point","opacity":0},
       "encoding":{
        "x":{"field":"x","type":"quantitative","axis":{"orient":"top","values":[0,50000,100000,150000,200000,250000],"labels":false,"tickSize":-8,"title":null}},
        "y":{"field":"y","type":"quantitative","axis":{"orient":"right","values":[0,20000,40000,60000,80000,100000,120000],"labels":false,"tickSize":-8,"title":null}}}}
     ],
     "resolve":{"axis":{"x":"independent","y":"independent"}}
    }
   ],"spacing":0,
   "resolve":{"scale":{"color":"independent","shape":"independent","size":"independent"},"legend":{"color":"independent","shape":"independent","size":"independent"}}}
  ],"columns":3,"align":"none","spacing":-506,
  "resolve":{"scale":{"color":"independent","shape":"independent","size":"independent"},"legend":{"color":"independent","shape":"independent","size":"independent"}}},
  {"concat":[
   {"width":44,"height":1,"data":{"values":[]},"mark":"point","encoding":{},"view":{"stroke":null}},
   {"width":454,"height":316,"data":{"name":"d"},
    "title":{"text":"(d)","dx":-115,"fontSize":27,"offset":7},
    "layer":[
     {"mark":{"type":"rule","color":"#9c9c9c","strokeWidth":3.2},
      "encoding":{
       "x":{"field":"x","type":"quantitative","scale":{"domain":[0,190],"nice":false},"axis":{"orient":"bottom","values":[0,2,4,6,8,10,12,14,16,18,20,22,24,26,28,30,32,34,36,38,40,42,44,46,48,50,52,54,56,58,60,62,64,66,68,70,72,74,76,78,80,82,84,86,88,90,92,94,96,98,100,102,104,106,108,110,112,114,116,118,120,122,124,126,128,130,132,134,136,138,140,142,144,146,148,150,152,154,156,158,160,162,164,166,168,170,172,174,176,178,180,182,184,186,188,190],"labelExpr":"datum.value % 20 == 0 ? datum.label : ''","tickSize":-4,"labelPadding":8,"labelFontSize":12,"title":"Number of genomes / partial genomes","titleFontSize":25,"titlePadding":11}},
       "y":{"field":"y","type":"quantitative","scale":{"domain":[0,0.9],"nice":false},"axis":{"orient":"left","values":[0,0.05,0.1,0.15,0.2,0.25,0.3,0.35,0.4,0.45,0.5,0.55,0.6,0.65,0.7,0.75,0.8,0.85,0.9],"format":".2f","labelExpr":"round(datum.value*100) % 10 == 0 ? datum.label : ''","tickSize":-4,"labelPadding":7,"labelFontSize":12,"title":"Sequence discovery rate","titleFontSize":24,"titlePadding":23}},
       "y2":{"field":"b"}}},
     {"mark":{"type":"tick","orient":"horizontal","color":"black","size":5,"thickness":0.8},
      "encoding":{
       "x":{"field":"x","type":"quantitative","axis":{"orient":"bottom","values":[0,20,40,60,80,100,120,140,160,180],"labels":false,"tickSize":-8,"title":null}},
       "y":{"field":"b","type":"quantitative","axis":{"orient":"left","values":[0,0.1,0.2,0.3,0.4,0.5,0.6,0.7,0.8,0.9],"labels":false,"tickSize":-8,"title":null}}}},
     {"mark":{"type":"point","filled":true,"size":95,"stroke":"black","strokeWidth":0.6,"opacity":1},
      "encoding":{
       "x":{"field":"x","type":"quantitative","axis":{"orient":"top","values":[0,2,4,6,8,10,12,14,16,18,20,22,24,26,28,30,32,34,36,38,40,42,44,46,48,50,52,54,56,58,60,62,64,66,68,70,72,74,76,78,80,82,84,86,88,90,92,94,96,98,100,102,104,106,108,110,112,114,116,118,120,122,124,126,128,130,132,134,136,138,140,142,144,146,148,150,152,154,156,158,160,162,164,166,168,170,172,174,176,178,180,182,184,186,188,190],"labels":false,"tickSize":-4,"title":null}},
       "y":{"field":"y","type":"quantitative","axis":{"orient":"right","values":[0,0.05,0.1,0.15,0.2,0.25,0.3,0.35,0.4,0.45,0.5,0.55,0.6,0.65,0.7,0.75,0.8,0.85,0.9],"format":".2f","labelExpr":"round(datum.value*100) % 10 == 0 ? datum.label : ''","tickSize":-4,"labelPadding":7,"labelFontSize":12,"title":null}},
       "color":{"field":"s","type":"nominal","scale":{"domain":["bs","pg","b1","p3","st","sp"],"range":["#3d3592","#d0021b","#72c6c0","#f0a500","#158a3e","#8e3ea0"]},
         "legend":{"orient":"none","legendX":217,"legendY":14,"title":null,"labelFontSize":10.5,"symbolSize":65,"padding":8,"rowPadding":3,"labelOffset":11,"labelLimit":300,"labelExpr":"datum.label == 'bs' ? 'Bacterial sequences' : datum.label == 'pg' ? 'Partial genome sequences' : datum.label == 'b1' ? 'Bacterial sequences >100 residues' : datum.label == 'p3' ? 'Partial genome sequences > 300 bp' : datum.label == 'st' ? 'Bacterial sequences - strains filtered' : 'Bacterial sequences - species filtered'"}},
       "shape":{"field":"s","type":"nominal","scale":{"domain":["bs","pg","b1","p3","st","sp"],"range":["circle","circle","diamond","diamond","triangle-up","triangle-up"]},
         "legend":{"orient":"none","legendX":217,"legendY":14,"title":null,"labelFontSize":10.5,"symbolSize":65,"padding":8,"rowPadding":3,"labelOffset":11,"labelLimit":300,"labelExpr":"datum.label == 'bs' ? 'Bacterial sequences' : datum.label == 'pg' ? 'Partial genome sequences' : datum.label == 'b1' ? 'Bacterial sequences >100 residues' : datum.label == 'p3' ? 'Partial genome sequences > 300 bp' : datum.label == 'st' ? 'Bacterial sequences - strains filtered' : 'Bacterial sequences - species filtered'"}}
      }},
     {"data":{"values":[]},"mark":{"type":"point","opacity":0},
      "encoding":{
       "x":{"field":"x","type":"quantitative","axis":{"orient":"top","values":[0,20,40,60,80,100,120,140,160,180],"labels":false,"tickSize":-8,"title":null}},
       "y":{"field":"y","type":"quantitative","axis":{"orient":"right","values":[0,0.1,0.2,0.3,0.4,0.5,0.6,0.7,0.8,0.9],"labels":false,"tickSize":-8,"title":null}}}}
    ],
    "resolve":{"axis":{"x":"independent","y":"independent"}}
   },
   {"width":453,"height":315,"data":{"name":"e"},
    "title":{"text":"(e)","dx":-98,"fontSize":27,"offset":7},
    "layer":[
     {"mark":{"type":"rule","color":"#9c9c9c","strokeWidth":3.2},
      "encoding":{
       "x":{"field":"x","type":"quantitative","scale":{"domain":[0,190],"nice":false},"axis":{"orient":"bottom","values":[0,2,4,6,8,10,12,14,16,18,20,22,24,26,28,30,32,34,36,38,40,42,44,46,48,50,52,54,56,58,60,62,64,66,68,70,72,74,76,78,80,82,84,86,88,90,92,94,96,98,100,102,104,106,108,110,112,114,116,118,120,122,124,126,128,130,132,134,136,138,140,142,144,146,148,150,152,154,156,158,160,162,164,166,168,170,172,174,176,178,180,182,184,186,188,190],"labelExpr":"datum.value % 20 == 0 ? datum.label : ''","tickSize":-4,"labelPadding":8,"labelFontSize":12,"title":"Number of genomes / partial genomes","titleFontSize":25,"titlePadding":11}},
       "y":{"field":"y","type":"quantitative","scale":{"domain":[0,0.9],"nice":false},"axis":{"orient":"left","values":[0,0.05,0.1,0.15,0.2,0.25,0.3,0.35,0.4,0.45,0.5,0.55,0.6,0.65,0.7,0.75,0.8,0.85,0.9],"format":".2f","labelExpr":"round(datum.value*100) % 10 == 0 ? datum.label : ''","tickSize":-4,"labelPadding":7,"labelFontSize":12,"title":"Gene family discovery rate","titleFontSize":24,"titlePadding":18}},
       "y2":{"field":"b"}}},
     {"mark":{"type":"tick","orient":"horizontal","color":"black","size":5,"thickness":0.8},
      "encoding":{
       "x":{"field":"x","type":"quantitative","axis":{"orient":"bottom","values":[0,20,40,60,80,100,120,140,160,180],"labels":false,"tickSize":-8,"title":null}},
       "y":{"field":"b","type":"quantitative","axis":{"orient":"left","values":[0,0.1,0.2,0.3,0.4,0.5,0.6,0.7,0.8,0.9],"labels":false,"tickSize":-8,"title":null}}}},
     {"mark":{"type":"point","filled":true,"size":95,"stroke":"black","strokeWidth":0.6,"opacity":1},
      "encoding":{
       "x":{"field":"x","type":"quantitative","axis":{"orient":"top","values":[0,2,4,6,8,10,12,14,16,18,20,22,24,26,28,30,32,34,36,38,40,42,44,46,48,50,52,54,56,58,60,62,64,66,68,70,72,74,76,78,80,82,84,86,88,90,92,94,96,98,100,102,104,106,108,110,112,114,116,118,120,122,124,126,128,130,132,134,136,138,140,142,144,146,148,150,152,154,156,158,160,162,164,166,168,170,172,174,176,178,180,182,184,186,188,190],"labels":false,"tickSize":-4,"title":null}},
       "y":{"field":"y","type":"quantitative","axis":{"orient":"right","values":[0,0.05,0.1,0.15,0.2,0.25,0.3,0.35,0.4,0.45,0.5,0.55,0.6,0.65,0.7,0.75,0.8,0.85,0.9],"format":".2f","labelExpr":"round(datum.value*100) % 10 == 0 ? datum.label : ''","tickSize":-4,"labelPadding":7,"labelFontSize":12,"title":null}},
       "color":{"field":"s","type":"nominal","scale":{"domain":["bf","pf","sf","xf"],"range":["#3d3592","#d0021b","#158a3e","#8e3ea0"]},
         "legend":{"orient":"none","legendX":203,"legendY":13,"title":null,"labelFontSize":10.5,"symbolSize":65,"padding":8,"rowPadding":3,"labelOffset":11,"labelLimit":300,"labelExpr":"datum.label == 'bf' ? 'Bacterial gene families' : datum.label == 'pf' ? 'Partial genome gene families' : datum.label == 'sf' ? 'Bacterial gene families - strains filtered' : 'Bacterial gene families - species filtered'"}},
       "shape":{"field":"s","type":"nominal","scale":{"domain":["bf","pf","sf","xf"],"range":["circle","circle","triangle-up","triangle-up"]},
         "legend":{"orient":"none","legendX":203,"legendY":13,"title":null,"labelFontSize":10.5,"symbolSize":65,"padding":8,"rowPadding":3,"labelOffset":11,"labelLimit":300,"labelExpr":"datum.label == 'bf' ? 'Bacterial gene families' : datum.label == 'pf' ? 'Partial genome gene families' : datum.label == 'sf' ? 'Bacterial gene families - strains filtered' : 'Bacterial gene families - species filtered'"}}
      }},
     {"data":{"values":[]},"mark":{"type":"point","opacity":0},
      "encoding":{
       "x":{"field":"x","type":"quantitative","axis":{"orient":"top","values":[0,20,40,60,80,100,120,140,160,180],"labels":false,"tickSize":-8,"title":null}},
       "y":{"field":"y","type":"quantitative","axis":{"orient":"right","values":[0,0.1,0.2,0.3,0.4,0.5,0.6,0.7,0.8,0.9],"labels":false,"tickSize":-8,"title":null}}}}
    ],
    "resolve":{"axis":{"x":"independent","y":"independent"}}
   }
  ],"columns":3,"align":"none","spacing":22,
  "resolve":{"scale":{"color":"independent","shape":"independent","size":"independent"},"legend":{"color":"independent","shape":"independent","size":"independent"}}}
 ],"spacing":42,
 "resolve":{"scale":{"color":"independent","shape":"independent","size":"independent"},"legend":{"color":"independent","shape":"independent","size":"independent"}}}
],
"spacing":18
}
